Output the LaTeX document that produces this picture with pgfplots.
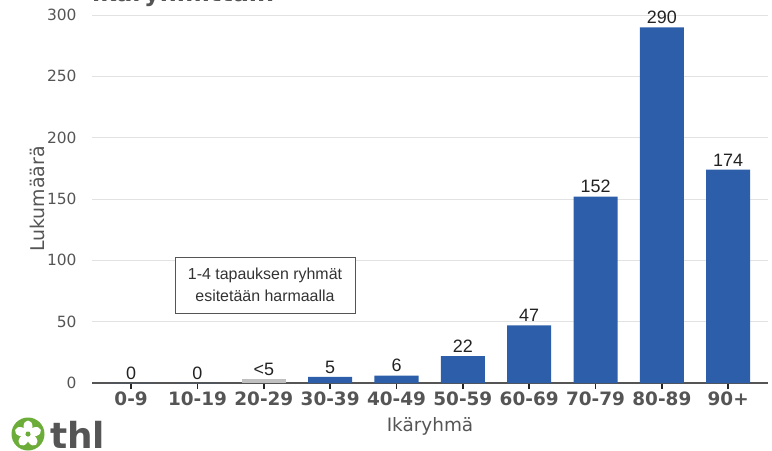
\documentclass[border=0pt]{standalone}
\usepackage{fontspec}
\setmainfont{DejaVu Sans}
\newfontfamily\arial{Liberation Sans}
\usepackage{pgfplots}
\pgfplotsset{compat=1.18}
\definecolor{barblue}{RGB}{44,94,170}
\definecolor{bargrey}{RGB}{192,192,192}
\definecolor{txtgrey}{RGB}{85,85,85}
\definecolor{gridgrey}{RGB}{226,226,226}
\definecolor{thlgreen}{RGB}{108,172,56}
\definecolor{valtxt}{RGB}{34,34,34}
\begin{document}
\begin{tikzpicture}
\useasboundingbox (0,0) rectangle (772bp,-451bp);
\clip (0,0) rectangle (772bp,-451bp);
\node[anchor=base west, font=\fontsize{24}{28}\selectfont\bfseries, text=txtgrey, inner sep=0] at (92bp,-1bp) {ikäryhmittäin};
\begin{axis}[
  at={(92bp,-383bp)}, anchor=south west,
  scale only axis, width=676bp, height=368bp,
  xmin=-0.59, xmax=9.6, ymin=0, ymax=300,
  ybar, bar width=44bp,
  axis x line*=bottom, axis y line*=left,
  y axis line style={draw=none},
  x axis line style={draw=txtgrey, line width=2bp, -},
  ytick={0,50,...,300},
  ymajorgrids, grid style={gridgrey, line width=0.9bp},
  xtick={0,...,9},
  xticklabels={0-9,10-19,20-29,30-39,40-49,50-59,60-69,70-79,80-89,90+},
  tick align=outside,
  x tick style={draw=black!85, line width=1.5bp},
  major tick length=6bp,
  y tick style={draw=none},
  /pgf/number format/assume math mode=true,
  x tick label style={font=\fontsize{18.5}{21}\selectfont\bfseries, text=txtgrey, yshift=1bp},
  y tick label style={font=\fontsize{15.5}{18}\selectfont, text=txtgrey, xshift=-6bp},
  every axis x label/.style={at={(axis description cs:0.5,-0.117)}, anchor=center, font=\fontsize{18.5}{21}\selectfont, text=txtgrey},
  every axis y label/.style={at={(axis description cs:-0.08,0.5)}, rotate=90, anchor=center, font=\fontsize{19}{22}\selectfont, text=txtgrey},
  xlabel={Ikäryhmä},
  ylabel={Lukumäärä},
  nodes near coords style={font=\arial\fontsize{18}{21}\selectfont, text=valtxt, /pgf/number format/assume math mode=true},
]
\addplot[bar shift=0pt, fill=barblue, draw=none, nodes near coords] coordinates {
  (0,0) (1,0) (3,5) (4,6) (5,22) (6,47) (7,152) (8,290) (9,174)};
\addplot[bar shift=0pt, fill=bargrey, draw=none, nodes near coords={<5}] coordinates {(2,3)};
\end{axis}
\node[draw=txtgrey, line width=1bp, fill=white, align=center, font=\arial\fontsize{16}{22}\selectfont, text=black!80, minimum width=180bp, minimum height=56bp, inner sep=2bp] at (265bp,-285bp) {1-4 tapauksen ryhmät\\esitetään harmaalla};
% logo
\fill[thlgreen] (28bp,-434bp) circle (16.5bp);
\foreach \a in {90,162,234,306,378} {
  \fill[white] (28bp,-434bp) ++(\a:7.5bp) ellipse[x radius=6bp, y radius=4.5bp, rotate=\a];
}
\fill[thlgreen] (28bp,-434bp) circle (2.5bp);
\node[anchor=base west, inner sep=0, font=\fontsize{36}{40}\selectfont\bfseries, text=txtgrey] at (50bp,-448bp) {thl};
\end{tikzpicture}
\end{document}
